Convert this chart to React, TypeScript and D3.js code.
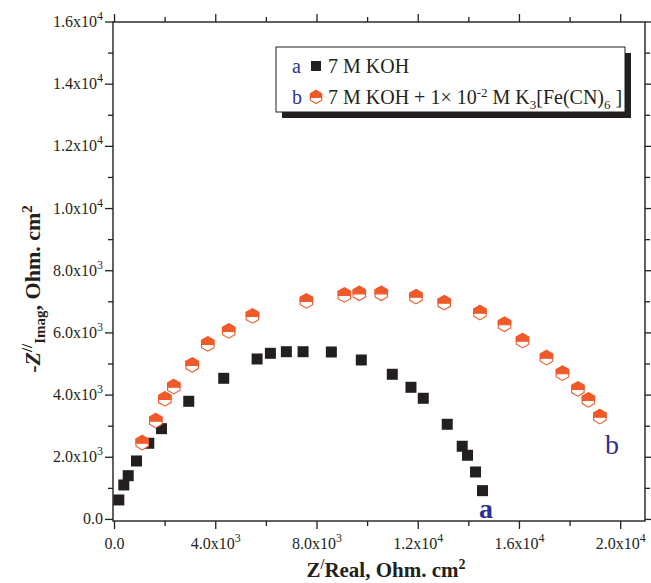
import React from 'react';
import * as d3 from 'd3';

// series a: 7 M KOH (black squares)
const realA = [170, 367, 541, 869, 1354, 1856, 2933, 4315, 5634, 6159, 6790, 7450, 8567, 9751, 10975, 11713, 12199, 13146, 13738, 13948, 14264, 14540];
const imagA = [627, 1109, 1408, 1881, 2450, 2920, 3800, 4540, 5161, 5344, 5395, 5395, 5386, 5129, 4669, 4251, 3897, 3061, 2354, 2064, 1527, 926];

// series b: 7 M KOH + 1x10-2 M K3[Fe(CN)6] (orange hexagons)
const realB = [1094, 1630, 1986, 2341, 3068, 3683, 4512, 5448, 7580, 9080, 9672, 10541, 11911, 13028, 14438, 15409, 16120, 17067, 17699, 18307, 18725, 19175];
const imagB = [2469, 3177, 3875, 4270, 4968, 5643, 6061, 6543, 7026, 7219, 7273, 7273, 7164, 6971, 6650, 6277, 5749, 5203, 4701, 4196, 3842, 3305];

const xMajor = [0, 4000, 8000, 12000, 16000, 20000];
const xMinor = [2000, 6000, 10000, 14000, 18000];
const yMajor = [0, 2000, 4000, 6000, 8000, 10000, 12000, 14000, 16000];
const yMinor = [1000, 3000, 5000, 7000, 9000, 11000, 13000, 15000];

const W = 651;
const H = 583;
const FONT = '"Liberation Serif", "Times New Roman", serif';
const INK = '#231f20';
const ORANGE = '#f05a28';
const BLUE = '#2e3192';

const x = d3.scaleLinear().domain([-60, 20960]).range([113, 645]);
const y = d3.scaleLinear().domain([-50, 16000]).range([521, 22]);

// "1.6x10^4" style label pieces
function sci(v: number) {
  if (v === 0) return { m: '0.0', e: '' };
  const e = Math.floor(Math.log10(v));
  return { m: (v / Math.pow(10, e)).toFixed(1) + 'x10', e: String(e) };
}

function Hex({ cx, cy, r }: { cx: number; cy: number; r: number }) {
  const w = (r * Math.sqrt(3)) / 2;
  const full = [[0, -r], [w, -r / 2], [w, r / 2], [0, r], [-w, r / 2], [-w, -r / 2]];
  const top = [[0, -r], [w, -r / 2], [w, 0.5], [-w, 0.5], [-w, -r / 2]];
  const pts = (p: number[][]) => p.map(([a, b]) => `${cx + a},${cy + b}`).join(' ');
  return (
    <g>
      <polygon points={pts(full)} fill="#fff" stroke={ORANGE} strokeWidth={1.1} />
      <polygon points={pts(top)} fill={ORANGE} stroke={ORANGE} strokeWidth={1.1} />
    </g>
  );
}

export default function App() {
  const [x0, x1] = x.range();
  const [y0, y1] = y.range();
  const sq = 11;

  return (
    <svg width={W} height={H} style={{ position: 'absolute', left: 0, top: 0, background: '#fff' }} fontFamily={FONT}>
      {/* frame */}
      <rect x={x0} y={y1} width={x1 - x0} height={y0 - y1} fill="none" stroke={INK} strokeWidth={1.4} />

      {/* x ticks bottom + top */}
      {xMajor.map((v) => (
        <g key={'xm' + v}>
          <line x1={x(v)} x2={x(v)} y1={y0} y2={y0 + 8} stroke={INK} strokeWidth={1.3} />
          <line x1={x(v)} x2={x(v)} y1={y1} y2={y1 - 8} stroke={INK} strokeWidth={1.3} />
        </g>
      ))}
      {xMinor.map((v) => (
        <g key={'xn' + v}>
          <line x1={x(v)} x2={x(v)} y1={y0} y2={y0 + 5} stroke={INK} strokeWidth={1.3} />
          <line x1={x(v)} x2={x(v)} y1={y1} y2={y1 - 5} stroke={INK} strokeWidth={1.3} />
        </g>
      ))}
      {/* y ticks left + right */}
      {yMajor.map((v) => (
        <g key={'ym' + v}>
          <line x1={x0} x2={x0 - 8} y1={y(v)} y2={y(v)} stroke={INK} strokeWidth={1.3} />
          <line x1={x1} x2={x1 + 8} y1={y(v)} y2={y(v)} stroke={INK} strokeWidth={1.3} />
        </g>
      ))}
      {yMinor.map((v) => (
        <g key={'yn' + v}>
          <line x1={x0} x2={x0 - 5} y1={y(v)} y2={y(v)} stroke={INK} strokeWidth={1.3} />
          <line x1={x1} x2={x1 + 5} y1={y(v)} y2={y(v)} stroke={INK} strokeWidth={1.3} />
        </g>
      ))}

      {/* tick labels */}
      {xMajor.map((v) => {
        const s = sci(v);
        return (
          <text key={'xl' + v} x={x(v)} y={549} textAnchor="middle" fontSize={16} fill={INK}>
            {s.m}
            {s.e && <tspan dy={-7} fontSize={12}>{s.e}</tspan>}
          </text>
        );
      })}
      {yMajor.map((v) => {
        const s = sci(v);
        return (
          <text key={'yl' + v} x={103} y={y(v) + 5} textAnchor="end" fontSize={16} fill={INK}>
            {s.m}
            {s.e && <tspan dy={-7} fontSize={12}>{s.e}</tspan>}
          </text>
        );
      })}

      {/* axis titles */}
      <text x={386} y={577} textAnchor="middle" fontSize={21} fontWeight="bold" fill={INK}>
        Z<tspan dy={-8} fontSize={14}>/</tspan>
        <tspan dy={8}>Real, Ohm. cm</tspan>
        <tspan dy={-8} fontSize={14}>2</tspan>
      </text>
      <text transform="translate(40,289) rotate(-90)" textAnchor="middle" fontSize={22} fontWeight="bold" fill={INK}>
        -<tspan fontStyle="italic">Z</tspan>
        <tspan dy={-8} fontSize={15}>//</tspan>
        <tspan dy={13} fontSize={15}>Imag</tspan>
        <tspan dy={-5}>, Ohm. cm</tspan>
        <tspan dy={-8} fontSize={15}>2</tspan>
      </text>

      {/* series a */}
      {realA.map((v, i) => (
        <rect key={'a' + i} x={x(v) - sq / 2} y={y(imagA[i]) - sq / 2} width={sq} height={sq} fill={INK} />
      ))}
      {/* series b */}
      {realB.map((v, i) => (
        <Hex key={'b' + i} cx={x(v)} cy={y(imagB[i])} r={7.2} />
      ))}

      {/* curve labels */}
      <text x={486} y={518} textAnchor="middle" fontSize={28} fontWeight="bold" fill={BLUE}>a</text>
      <text x={612} y={454} textAnchor="middle" fontSize={28} fill={BLUE}>b</text>

      {/* legend */}
      <rect x={282} y={53} width={349} height={65} fill={INK} />
      <rect x={276} y={47} width={349} height={65} fill="#fff" stroke={INK} strokeWidth={1} />
      <text x={292} y={73} fontSize={20} fill={BLUE}>a</text>
      <rect x={311} y={61} width={10} height={10} fill={INK} />
      <text x={328} y={73} fontSize={20} fill={INK}>7 M KOH</text>
      <text x={292} y={104} fontSize={20} fill={BLUE}>b</text>
      <Hex cx={316} cy={97} r={6.5} />
      <text x={328} y={104} fontSize={20} fill={INK}>
        7 M KOH + 1× 10<tspan dy={-7} fontSize={13}>-2</tspan>
        <tspan dy={7}> M K</tspan>
        <tspan dy={5} fontSize={13}>3</tspan>
        <tspan dy={-5}>[Fe(CN)</tspan>
        <tspan dy={5} fontSize={13}>6</tspan>
        <tspan dy={-5}> ]</tspan>
      </text>
    </svg>
  );
}
